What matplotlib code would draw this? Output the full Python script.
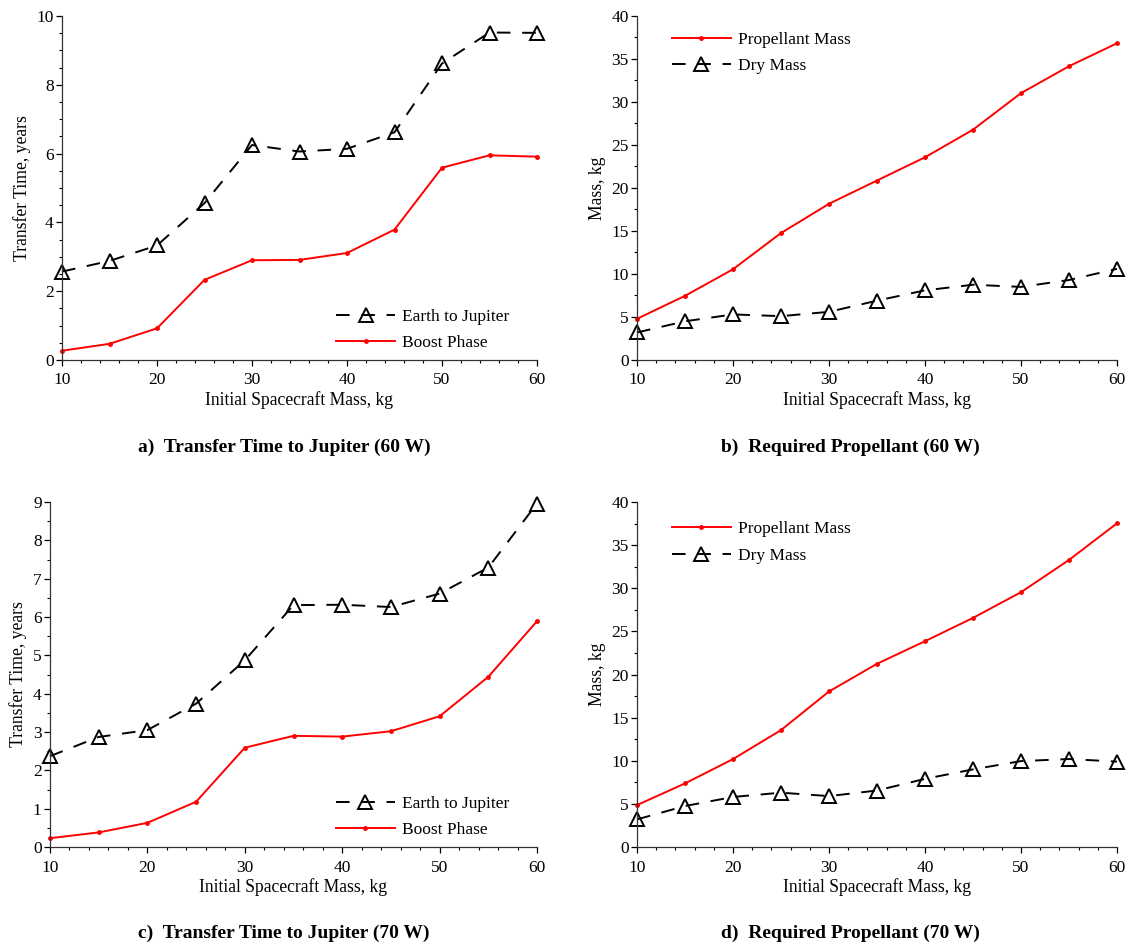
import matplotlib
matplotlib.use("Agg")
import matplotlib.pyplot as plt
from matplotlib.ticker import MultipleLocator

plt.rcParams['font.family'] = ['Liberation Serif', 'DejaVu Serif']

mass = [10, 15, 20, 25, 30, 35, 40, 45, 50, 55, 60]

# a) 60 W transfer time
a_earth_jup = [2.57, 2.88, 3.33, 4.56, 6.25, 6.06, 6.14, 6.62, 8.62, 9.52, 9.51]
a_boost = [0.27, 0.47, 0.92, 2.33, 2.90, 2.91, 3.11, 3.79, 5.59, 5.95, 5.91]
# b) 60 W propellant
b_prop = [4.79, 7.46, 10.55, 14.76, 18.16, 20.87, 23.57, 26.78, 31.03, 34.16, 36.83]
b_dry = [3.2, 4.5, 5.3, 5.1, 5.6, 6.9, 8.1, 8.75, 8.5, 9.3, 10.6]
# c) 70 W transfer time
c_earth_jup = [2.37, 2.87, 3.05, 3.74, 4.87, 6.31, 6.32, 6.26, 6.61, 7.29, 8.96]
c_boost = [0.23, 0.38, 0.63, 1.18, 2.59, 2.90, 2.88, 3.02, 3.41, 4.44, 5.89]
# d) 70 W propellant
d_prop = [4.86, 7.37, 10.19, 13.55, 18.03, 21.24, 23.86, 26.56, 29.54, 33.28, 37.53]
d_dry = [3.2, 4.75, 5.8, 6.3, 5.9, 6.55, 7.9, 9.0, 9.96, 10.2, 9.9]

captions = ["a)  Transfer Time to Jupiter (60 W)", "b)  Required Propellant (60 W)",
            "c)  Transfer Time to Jupiter (70 W)", "d)  Required Propellant (70 W)"]
xlabel = "Initial Spacecraft Mass, kg"
ylabel_time = "Transfer Time, years"
ylabel_mass = "Mass, kg"

W, H = 1130, 946
fig = plt.figure(figsize=(W / 100, H / 100), dpi=100)

def ax_px(x0, x1, y_top, y_bot):
    return fig.add_axes([x0 / W, 1 - y_bot / H, (x1 - x0) / W, (y_bot - y_top) / H])

tri_kw = dict(color='black', linestyle=(0, (7, 6)), linewidth=1.4, marker='^', markersize=10,
              markerfacecolor='none', markeredgewidth=1.4)
red_kw = dict(color='red', linestyle='-', linewidth=1.4, marker='o', markersize=2.5)
leg_kw = dict(frameon=False, fontsize=12.5, handlelength=3.4, labelspacing=0.6, handletextpad=0.4)

def style(ax, ymax, ymaj, ymin):
    ax.set_xlim(10, 60)
    ax.set_ylim(0, ymax)
    ax.xaxis.set_major_locator(MultipleLocator(10))
    ax.xaxis.set_minor_locator(MultipleLocator(2))
    ax.yaxis.set_major_locator(MultipleLocator(ymaj))
    ax.yaxis.set_minor_locator(MultipleLocator(ymin))
    for s in ['top', 'right']:
        ax.spines[s].set_visible(False)
    for s in ['left', 'bottom']:
        ax.spines[s].set_linewidth(0.9)
        ax.spines[s].set_color('#333333')
    ax.tick_params(which='major', direction='out', length=4, width=0.9, labelsize=12.5, pad=2)
    ax.tick_params(axis='x', which='major', pad=5)
    ax.tick_params(which='minor', direction='out', length=2, width=0.8)
    ax.set_xlabel(xlabel, fontsize=12.7, labelpad=2)

# a
ax = ax_px(62, 537, 16, 360)
ax.plot(mass, a_earth_jup, label='Earth to Jupiter', clip_on=False, **tri_kw)
ax.plot(mass, a_boost, label='Boost Phase', clip_on=False, **red_kw)
style(ax, 10, 2, 0.5)
ax.set_ylabel(ylabel_time, fontsize=12.7, labelpad=4)
ax.legend(loc='lower right', bbox_to_anchor=(0.975, -0.02), **leg_kw)

# b
ax = ax_px(637, 1117, 16, 360)
ax.plot(mass, b_prop, label='Propellant Mass', clip_on=False, **red_kw)
ax.plot(mass, b_dry, label='Dry Mass', clip_on=False, **tri_kw)
style(ax, 40, 5, 2.5)
ax.set_ylabel(ylabel_mass, fontsize=12.7, labelpad=4)
ax.legend(loc='upper left', bbox_to_anchor=(0.04, 1.0), **leg_kw)

# c
ax = ax_px(50, 537, 502, 847)
ax.plot(mass, c_earth_jup, label='Earth to Jupiter', clip_on=False, **tri_kw)
ax.plot(mass, c_boost, label='Boost Phase', clip_on=False, **red_kw)
style(ax, 9, 1, 0.5)
ax.set_ylabel(ylabel_time, fontsize=12.7, labelpad=4)
ax.legend(loc='lower right', bbox_to_anchor=(0.975, -0.02), **leg_kw)

# d
ax = ax_px(637, 1117, 502, 847)
ax.plot(mass, d_prop, label='Propellant Mass', clip_on=False, **red_kw)
ax.plot(mass, d_dry, label='Dry Mass', clip_on=False, **tri_kw)
style(ax, 40, 5, 2.5)
ax.set_ylabel(ylabel_mass, fontsize=12.7, labelpad=4)
ax.legend(loc='upper left', bbox_to_anchor=(0.04, 0.99), **leg_kw)

cap_pos = [(284, 447), (850, 447), (284, 933), (850, 933)]
for txt, (cx, cy) in zip(captions, cap_pos):
    fig.text(cx / W, 1 - cy / H, txt, ha='center', va='center', fontsize=14, fontweight='bold')

fig.savefig('out.png', dpi=100, facecolor='white')
